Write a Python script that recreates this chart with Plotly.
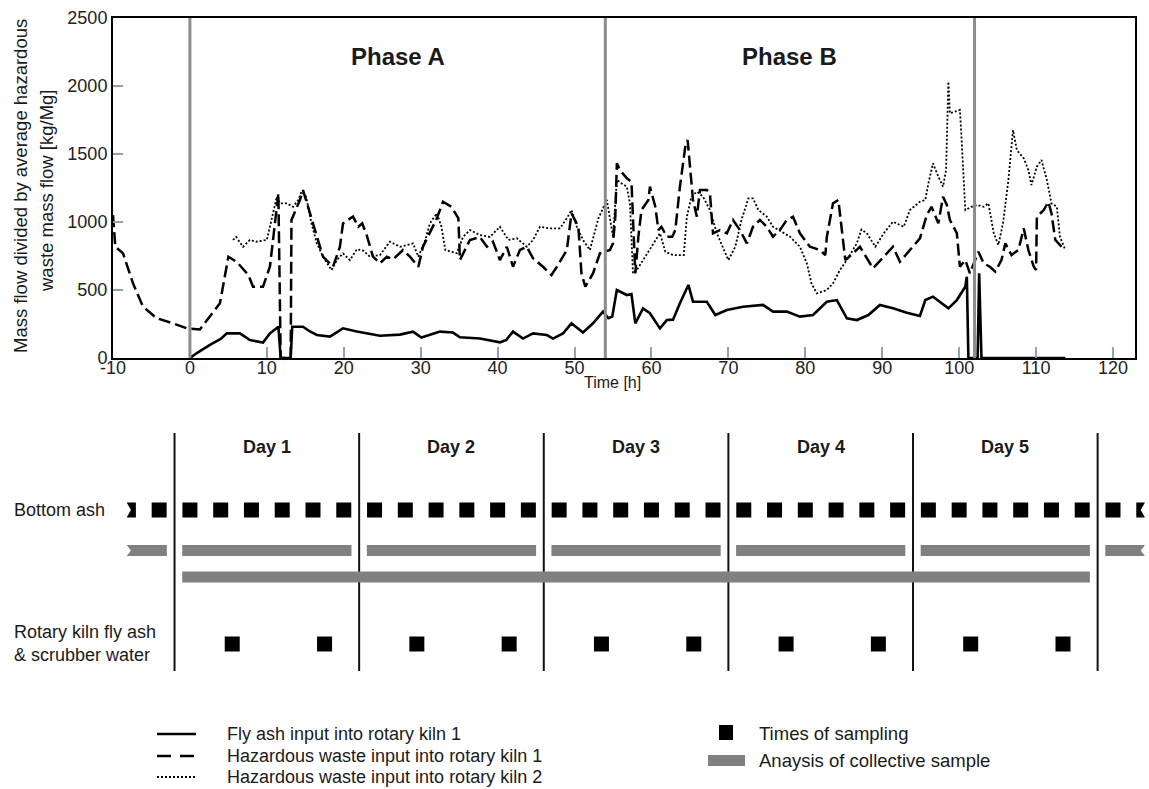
import plotly.graph_objects as go

# ---------------------------------------------------------------- data
# Fly ash input into rotary kiln 1 (time [h], kg/Mg)
fly_t = [0.0, 1.0, 2.6, 4.0, 4.8, 6.5, 7.8, 9.5, 10.4, 11.5, 11.8, 13.1, 13.3, 14.7,
         15.6, 16.5, 18.2, 19.9, 21.7, 23.0, 24.7, 27.3, 29.0, 30.1, 32.5, 34.2, 35.1,
         37.7, 40.3, 41.1, 42.0, 43.3, 44.6, 46.4, 47.2, 48.5, 49.6, 51.1, 52.4, 53.7,
         54.4, 54.9, 55.5, 56.8, 57.4, 57.9, 58.9, 59.8, 61.1, 62.0, 62.8, 63.7, 64.8,
         65.4, 67.2, 68.3, 69.8, 71.9, 74.5, 75.8, 77.6, 79.3, 81.0, 82.8, 84.1, 85.4,
         86.7, 88.2, 89.7, 91.4, 93.2, 94.9, 95.6, 96.6, 97.7, 98.6, 99.7, 100.8, 101.0,
         101.2, 102.4, 102.6, 102.9, 113.8]
fly_v = [0, 40, 96, 140, 181, 181, 132, 113, 181, 230, 0, 0, 230, 230,
         195, 169, 157, 218, 195, 181, 164, 172, 194, 150, 194, 187, 152,
         143, 115, 132, 194, 143, 181, 169, 143, 181, 255, 187, 255, 341,
         292, 304, 500, 463, 470, 255, 365, 329, 218, 279, 282, 402, 537,
         414, 414, 316, 353, 377, 390, 341, 341, 304, 316, 414, 426, 292,
         279, 316, 390, 365, 333, 309, 426, 451, 402, 365, 426, 524, 598,
         0, 0, 623, 0, 0]

# Hazardous waste input into rotary kiln 1
hw1_t = [-10.0, -9.7, -8.7, -7.4, -6.1, -4.3, -2.2, -0.4, 1.3, 2.2, 3.9, 5.0, 6.1, 7.6,
         8.2, 9.5, 10.4, 11.3, 11.5, 11.8, 13.1, 13.2, 14.3, 14.7, 15.6, 16.3, 17.3,
         18.6, 19.5, 19.9, 21.2, 21.9, 22.4, 23.0, 23.8, 24.7, 25.6, 26.4, 27.7, 28.6,
         29.7, 30.3, 31.4, 32.1, 32.9, 34.0, 34.9, 35.1, 36.4, 37.7, 38.6, 39.4, 40.3,
         41.2, 42.0, 42.9, 43.8, 44.6, 45.9, 47.0, 47.7, 49.0, 49.6, 50.5, 50.9, 51.4,
         52.4, 53.3, 54.6, 55.0, 55.3, 55.5, 55.9, 56.8, 57.4, 57.6, 57.9, 58.3, 58.7,
         59.6, 59.8, 60.5, 60.9, 61.3, 62.0, 62.7, 63.1, 63.7, 64.4, 64.7, 65.0, 65.4,
         65.9, 66.3, 67.2, 67.6, 68.0, 68.9, 69.8, 70.6, 71.5, 72.4, 73.2, 74.1, 75.0,
         75.8, 76.7, 77.6, 78.4, 79.3, 80.6, 81.9, 82.6, 82.8, 83.6, 84.3, 84.7, 85.2,
         86.2, 87.1, 88.8, 90.2, 91.4, 92.3, 93.6, 94.9, 95.8, 96.4, 97.3, 97.9, 98.4,
         98.8, 99.7, 100.1, 100.8, 101.4, 102.5, 103.2, 104.0, 104.7, 105.5, 106.0,
         106.8, 107.7, 108.4, 109.0, 109.7, 110.0, 110.1, 111.0, 111.6, 112.0, 112.5,
         113.1, 113.5]
hw1_v = [1050, 818, 770, 549, 377, 292, 255, 218, 210, 279, 402, 745, 706, 610,
         524, 524, 671, 1112, 1211, 0, 0, 1015, 1162, 1235, 1064, 917, 745,
         671, 818, 990, 1040, 965, 990, 900, 745, 696, 745, 725, 794, 745,
         671, 818, 941, 1027, 1149, 1112, 1027, 720, 868, 890, 818, 855, 720,
         818, 671, 794, 818, 733, 671, 610, 671, 794, 1064, 965, 622, 524,
         622, 770, 794, 843, 1039, 1431, 1382, 1321, 1296, 990, 622, 892, 1088,
         1162, 1260, 1112, 941, 965, 892, 892, 941, 1260, 1554, 1603, 1407, 1162,
         1039, 1235, 1235, 1211, 917, 941, 917, 1015, 941, 843, 965, 1015, 965,
         892, 941, 1015, 1039, 917, 818, 794, 757, 892, 1137, 1162, 965, 720,
         770, 818, 659, 745, 818, 708, 794, 880, 1052, 1112, 990, 1186, 1125,
         1015, 917, 671, 720, 622, 782, 696, 671, 635, 720, 843,
         757, 794, 953, 794, 671, 647, 1039, 1088, 1149, 1064, 868,
         831, 806]

# Hazardous waste input into rotary kiln 2
hw2_t = [5.6, 6.0, 6.9, 7.8, 8.6, 10.0, 10.8, 11.3, 11.7, 12.6, 13.4, 14.1, 14.5, 15.1,
         15.8, 16.5, 17.3, 18.4, 19.1, 19.9, 20.8, 21.7, 22.5, 23.4, 24.7, 26.0, 27.3,
         29.0, 29.7, 30.6, 31.2, 32.1, 32.7, 33.2, 34.7, 35.5, 36.4, 37.7, 39.0, 40.3,
         41.4, 42.5, 43.8, 44.6, 45.5, 46.8, 48.1, 49.0, 49.6, 50.3, 51.1, 52.0, 53.1,
         54.2, 55.0, 55.5, 56.1, 56.8, 57.2, 57.6, 58.1, 58.9, 60.2, 61.1, 61.8, 62.8,
         64.2, 64.6, 65.2, 65.9, 66.7, 67.6, 68.5, 69.3, 70.0, 70.9, 71.7, 72.6, 73.2,
         73.9, 75.0, 75.8, 76.9, 78.0, 79.3, 80.2, 80.8, 81.5, 82.8, 83.6, 84.5, 85.4,
         86.7, 87.3, 88.0, 89.1, 90.2, 91.4, 92.8, 93.6, 94.9, 95.6, 96.0, 96.6, 97.3,
         97.9, 98.3, 98.6, 98.8, 99.5, 100.1, 100.3, 100.8, 101.6, 102.3, 103.2, 103.8,
         104.5, 105.1, 105.7, 106.4, 107.0, 107.5, 108.4, 109.0, 109.4, 110.1, 110.7,
         111.4, 112.0, 112.7, 113.1, 113.8]
hw2_v = [868, 890, 818, 868, 855, 868, 1064, 1186, 1137, 1137, 1112, 1162, 1223, 1186,
         990, 843, 745, 647, 720, 769, 720, 800, 790, 745, 757, 855, 818,
         843, 745, 868, 990, 1064, 965, 794, 770, 890, 941, 904, 890, 965,
         868, 880, 818, 868, 965, 953, 953, 1027, 1088, 965, 868, 794, 1027,
         1162, 892, 1309, 1284, 1260, 1137, 622, 647, 720, 843, 917, 782, 757,
         757, 1039, 1186, 1223, 1186, 1088, 917, 818, 720, 818, 1015, 1174, 1174,
         1088, 1039, 965, 929, 892, 818, 696, 549, 475, 500, 549, 647, 720,
         843, 945, 917, 818, 917, 1002, 965, 1088, 1149, 1162, 1284, 1431, 1333,
         1260, 1382, 2032, 1799, 1811, 1824, 1627, 1088, 1112, 1125, 1112, 1137,
         917, 831, 990, 1309, 1676, 1529, 1468, 1382, 1272, 1407, 1456,
         1309, 1137, 1112, 892, 794]

# axis ticks
time_ticks = [-10, 0, 10, 20, 30, 40, 50, 60, 70, 80, 90, 100, 110, 120]
time_tick_labels = ["-10", "0", "10", "20", "30", "40", "50", "60", "70", "80", "90",
                    "100", "110", "120"]
flow_ticks = [0, 500, 1000, 1500, 2000, 2500]

phase_bounds = [0, 54, 102]
phase_names = ["Phase A", "Phase B"]

# sampling schedule (time [h])
day_bounds = [-2, 22, 46, 70, 94, 118]
day_names = ["Day 1", "Day 2", "Day 3", "Day 4", "Day 5"]
bottom_ash_times = [-4, 0, 4, 8, 12, 16, 20, 24, 28, 32, 36, 40, 44, 48, 52, 56, 60,
                    64, 68, 72, 76, 80, 84, 88, 92, 96, 100, 104, 108, 112, 116, 120]
bottom_ash_cut_times = [-8, 124]          # samples running off the time window
fly_ash_times = [5.5, 17.5, 29.5, 41.5, 53.5, 65.5, 77.5, 89.5, 101.5, 113.5]
daily_composites = [(-25, -3), (-1, 21), (23, 45), (47, 69), (71, 93), (95, 117), (119, 141)]
campaign_composite = (-1, 117)

assert len(fly_t) == len(fly_v)
assert len(hw1_t) == len(hw1_v)
assert len(hw2_t) == len(hw2_v)

# ---------------------------------------------------------------- layout geometry
W, H = 1149, 789
FONT = "Liberation Sans, Arial, Helvetica, sans-serif"
INK = "#1a1a1a"
GREY = "#808080"
PLOT_L, PLOT_R, PLOT_T, PLOT_B = 113, 1135, 18, 358
T_MIN, T_MAX = -10, 122.86
px_per_h = (PLOT_R - PLOT_L) / (T_MAX - T_MIN)
T2_MIN = T_MIN - PLOT_L / px_per_h
T2_MAX = T_MAX + (W - PLOT_R) / px_per_h
TEAR_L, TEAR_R = -8.22, 124.16            # torn ends of the schedule strip

ROW_ASH, ROW_DAILY, ROW_ALL, ROW_FLY = 510, 550.5, 577, 644
SQ = 15                                   # square marker size
BAR_H = 11
half_sq_h = (SQ / 2) / px_per_h


def px(x):
    return x / W


def py(y):
    return 1 - y / H


fig = go.Figure()

fig.add_trace(go.Scatter(x=fly_t, y=fly_v, mode="lines", xaxis="x", yaxis="y",
                         line=dict(color="black", width=2.6),
                         name="Fly ash input into rotary kiln 1"))
fig.add_trace(go.Scatter(x=hw1_t, y=hw1_v, mode="lines", xaxis="x", yaxis="y",
                         line=dict(color="black", width=2.5, dash="12px,5px"),
                         name="Hazardous waste input into rotary kiln 1"))
fig.add_trace(go.Scatter(x=hw2_t, y=hw2_v, mode="lines", xaxis="x", yaxis="y",
                         line=dict(color="black", width=1.8, dash="2px,2px"),
                         name="Hazardous waste input into rotary kiln 2"))

# schedule: sampling squares
fig.add_trace(go.Scatter(x=bottom_ash_times, y=[ROW_ASH] * len(bottom_ash_times),
                         mode="markers", xaxis="x2", yaxis="y2",
                         marker=dict(symbol="square", size=SQ, color="black", line=dict(width=0)),
                         name="Bottom ash"))
fig.add_trace(go.Scatter(x=fly_ash_times, y=[ROW_FLY] * len(fly_ash_times),
                         mode="markers", xaxis="x2", yaxis="y2",
                         marker=dict(symbol="square", size=SQ, color="black", line=dict(width=0)),
                         name="Rotary kiln fly ash & scrubber water"))

shapes = []
annotations = []

# phase boundaries
for b in phase_bounds:
    shapes.append(dict(type="line", xref="x", yref="y", x0=b, x1=b, y0=0, y1=2500,
                       line=dict(color="#8c8c8c", width=3), layer="above"))
for name, a, b in zip(phase_names, phase_bounds[:-1], phase_bounds[1:]):
    annotations.append(dict(text=f"<b>{name}</b>", xref="x", yref="paper", x=(a + b) / 2,
                            y=py(56), xanchor="center", yanchor="middle", showarrow=False,
                            font=dict(size=24, color=INK)))

# day separators and labels
for b in day_bounds:
    shapes.append(dict(type="line", xref="x2", yref="y2", x0=b, x1=b, y0=433, y1=671,
                       line=dict(color="#111111", width=2)))
for name, a, b in zip(day_names, day_bounds[:-1], day_bounds[1:]):
    annotations.append(dict(text=f"<b>{name}</b>", xref="x2", yref="y2", x=(a + b) / 2,
                            y=447, xanchor="center", yanchor="middle", showarrow=False,
                            font=dict(size=18, color=INK)))


def torn_rect(t0, t1, yc, h):
    """Rectangle clipped to the schedule window; clipped ends get a torn notch."""
    y0, y1 = yc - h / 2, yc + h / 2
    notch = 0.55
    if t0 < TEAR_L:
        left = [(TEAR_L, y1), (TEAR_L + notch, yc), (TEAR_L, y0)]
    else:
        left = [(t0, y1), (t0, y0)]
    if t1 > TEAR_R:
        right = [(TEAR_R, y0), (TEAR_R - notch, yc), (TEAR_R, y1)]
    else:
        right = [(t1, y0), (t1, y1)]
    pts = left + right
    return "M " + " L ".join(f"{x:.3f},{y:.2f}" for x, y in pts) + " Z"


for t0, t1 in daily_composites:
    if t0 < TEAR_L or t1 > TEAR_R:
        shapes.append(dict(type="path", xref="x2", yref="y2", path=torn_rect(t0, t1, ROW_DAILY, BAR_H),
                           fillcolor=GREY, line=dict(width=0)))
    else:
        shapes.append(dict(type="rect", xref="x2", yref="y2", x0=t0, x1=t1,
                           y0=ROW_DAILY - BAR_H / 2, y1=ROW_DAILY + BAR_H / 2,
                           fillcolor=GREY, line=dict(width=0)))
shapes.append(dict(type="rect", xref="x2", yref="y2", x0=campaign_composite[0],
                   x1=campaign_composite[1], y0=ROW_ALL - BAR_H / 2, y1=ROW_ALL + BAR_H / 2,
                   fillcolor=GREY, line=dict(width=0)))
for t in bottom_ash_cut_times:
    shapes.append(dict(type="path", xref="x2", yref="y2",
                       path=torn_rect(t - half_sq_h, t + half_sq_h, ROW_ASH, SQ),
                       fillcolor="black", line=dict(width=0)))

# row labels
annotations.append(dict(text="Bottom ash", xref="paper", yref="paper", x=px(12), y=py(510),
                        xanchor="left", yanchor="middle", showarrow=False,
                        font=dict(size=18, color=INK)))
annotations.append(dict(text="Rotary kiln fly ash<br>& scrubber water", xref="paper", yref="paper",
                        x=px(12), y=py(643), xanchor="left", yanchor="middle", align="left",
                        showarrow=False, font=dict(size=18, color=INK)))

# axis titles
annotations.append(dict(text="Mass flow divided by average hazardous", xref="paper", yref="paper",
                        x=px(20), y=py(186), textangle=-90, xanchor="center", yanchor="middle",
                        showarrow=False, font=dict(size=18.5, color=INK)))
annotations.append(dict(text="waste mass flow [kg/Mg]", xref="paper", yref="paper",
                        x=px(46), y=py(191), textangle=-90, xanchor="center", yanchor="middle",
                        showarrow=False, font=dict(size=18.5, color=INK)))
annotations.append(dict(text="Time [h]", xref="paper", yref="paper", x=px(612), y=py(382),
                        xanchor="center", yanchor="middle", showarrow=False,
                        font=dict(size=16, color=INK)))

# legend (drawn by hand: two columns)
LEG_X0, LEG_X1, LEG_TX = 157, 196, 225
legend_lines = [
    ("Fly ash input into rotary kiln 1", 734, dict(color="black", width=2.6)),
    ("Hazardous waste input into rotary kiln 1", 756, dict(color="black", width=2.6, dash="14px,9px")),
    ("Hazardous waste input into rotary kiln 2", 777, dict(color="black", width=1.8, dash="2px,2px")),
]
for label, yy, ln in legend_lines:
    shapes.append(dict(type="line", xref="paper", yref="paper", x0=px(LEG_X0), x1=px(LEG_X1),
                       y0=py(yy), y1=py(yy), line=ln))
    annotations.append(dict(text=label, xref="paper", yref="paper", x=px(LEG_TX), y=py(yy),
                            xanchor="left", yanchor="middle", showarrow=False,
                            font=dict(size=18, color=INK)))
shapes.append(dict(type="rect", xref="paper", yref="paper", x0=px(719), x1=px(733),
                   y0=py(740), y1=py(725), fillcolor="black", line=dict(width=0)))
shapes.append(dict(type="rect", xref="paper", yref="paper", x0=px(708), x1=px(745),
                   y0=py(766), y1=py(755), fillcolor=GREY, line=dict(width=0)))
annotations.append(dict(text="Times of sampling", xref="paper", yref="paper", x=px(757), y=py(733),
                        xanchor="left", yanchor="middle", showarrow=False,
                        font=dict(size=18.5, color=INK)))
annotations.append(dict(text="Anaysis of collective sample", xref="paper", yref="paper", x=px(757),
                        y=py(760), xanchor="left", yanchor="middle", showarrow=False,
                        font=dict(size=18.5, color=INK)))

TICKC = "#8ea3b6"
fig.update_layout(
    width=W, height=H,
    margin=dict(l=0, r=0, t=0, b=0, autoexpand=False),
    paper_bgcolor="white", plot_bgcolor="rgba(0,0,0,0)",
    showlegend=False,
    font=dict(family=FONT, size=18, color=INK),
    xaxis=dict(domain=[px(PLOT_L), px(PLOT_R)], range=[T_MIN, T_MAX], anchor="y",
               tickmode="array", tickvals=time_ticks, ticktext=time_tick_labels,
               ticks="inside", ticklen=11, tickwidth=1.5, tickcolor=TICKC,
               showline=True, linecolor="black", linewidth=2, mirror=True,
               showgrid=False, zeroline=False, automargin=False, ticklabelstandoff=-8,
               tickfont=dict(size=18, color="#222222")),
    yaxis=dict(domain=[py(PLOT_B), py(PLOT_T)], range=[0, 2500], anchor="x",
               tickmode="array", tickvals=flow_ticks,
               ticks="inside", ticklen=10, tickwidth=1.5, tickcolor=TICKC,
               showline=True, linecolor="black", linewidth=2, mirror=True,
               showgrid=False, zeroline=False, automargin=False,
               tickfont=dict(size=18, color="#222222")),
    xaxis2=dict(domain=[0, 1], range=[T2_MIN, T2_MAX], anchor="y2", visible=False),
    yaxis2=dict(domain=[0, 1], range=[H, 0], anchor="x2", visible=False),
    shapes=shapes,
    annotations=annotations,
)

fig.write_html("out.html")
